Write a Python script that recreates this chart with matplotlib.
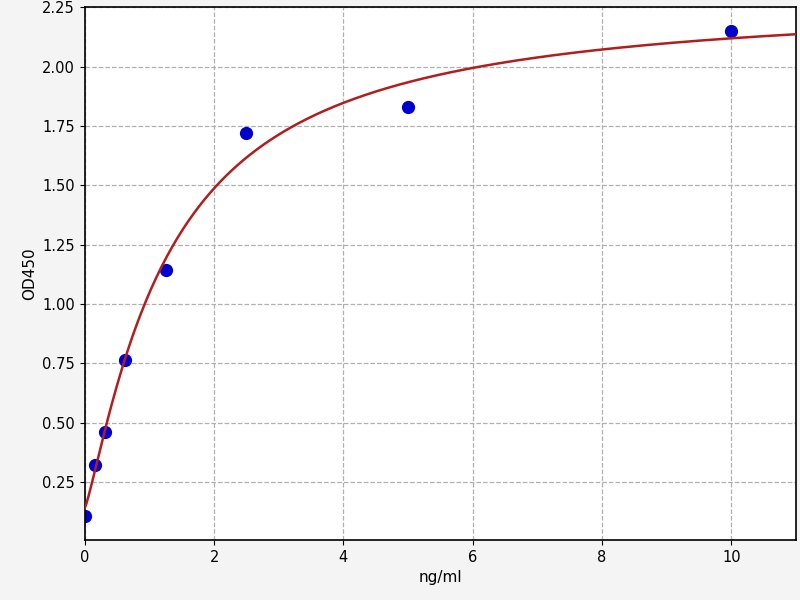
import numpy as np
import matplotlib
matplotlib.use("Agg")
import matplotlib.pyplot as plt

# Standard points (concentration ng/ml vs OD450)
conc = [0, 0.156, 0.3125, 0.625, 1.25, 2.5, 5, 10]
od450 = [0.107, 0.321, 0.458, 0.763, 1.142, 1.722, 1.829, 2.150]

# Four parameter logistic fit, parameters
a_fit = 0.14
b_fit = 1.2
c_fit = 1.30
d_fit = 2.29

def four_pl(x):
    return d_fit + (a_fit - d_fit) / (1 + (x / c_fit) ** b_fit)

fig = plt.figure(figsize=(8, 6), dpi=100, facecolor="#f4f4f4")
ax = fig.add_axes([0.106, 0.1, 0.889, 0.888])
ax.set_facecolor("white")

x_fit = np.linspace(0, 11, 400)
ax.plot(conc, od450, "o", color="#0000cc", ms=8.5, zorder=2)
ax.plot(x_fit, four_pl(x_fit), color="#b01e1e", lw=1.8, zorder=3)

ax.set_xlim(0, 11)
ax.set_ylim(0.005, 2.25)
ax.set_xticks([0, 2, 4, 6, 8, 10])
ax.set_yticks([0.25, 0.5, 0.75, 1.0, 1.25, 1.5, 1.75, 2.0, 2.25])
ax.grid(True, linestyle="--", color="#b0b0b0", linewidth=0.9)
ax.set_axisbelow(True)
for s in ax.spines.values():
    s.set_linewidth(1.2)
ax.tick_params(labelsize=10.5)
ax.set_xlabel("ng/ml", fontsize=11)
ax.set_ylabel("OD450", fontsize=11)

fig.savefig("out.png", dpi=100, facecolor=fig.get_facecolor())
